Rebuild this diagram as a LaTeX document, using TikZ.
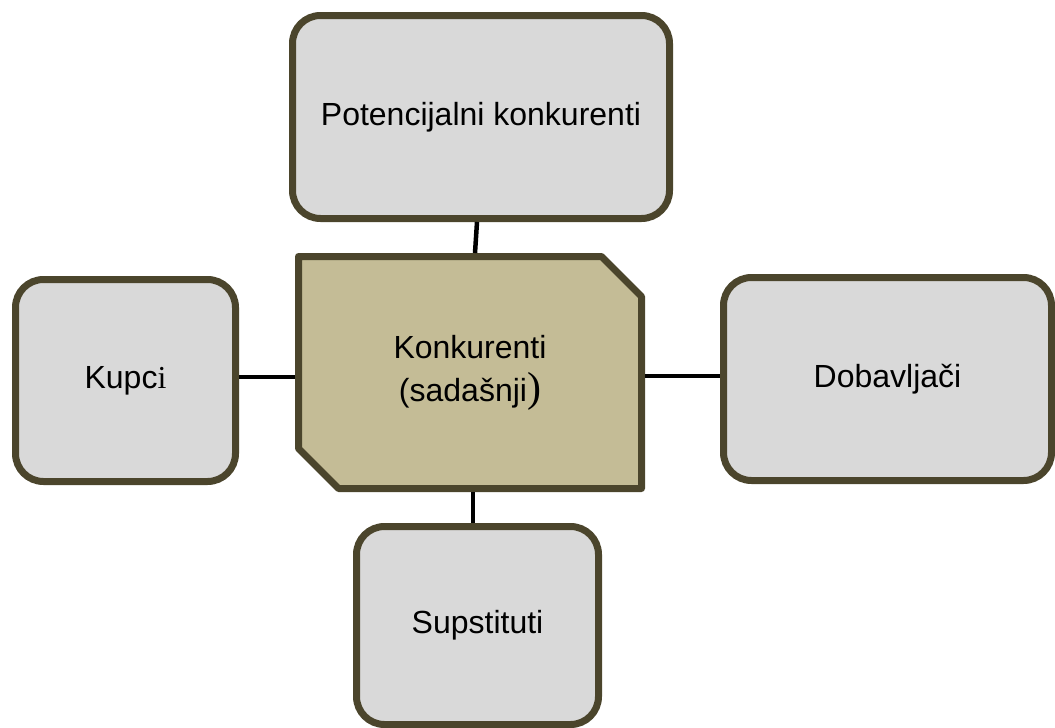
\documentclass[tikz,border=0pt]{standalone}
\usepackage{fontspec}
\setmainfont{Liberation Sans}
\newfontfamily\serifi{Liberation Serif}
\usetikzlibrary{calc,shadows,backgrounds}
\definecolor{bordc}{HTML}{4B452C}
\definecolor{boxgray}{HTML}{D9D9D9}
\definecolor{ctrfill}{HTML}{C4BC96}
\tikzset{
  outerbox/.style={draw=bordc, line width=7pt, fill=boxgray, rounded corners=28pt,
    align=center, inner sep=0pt,
    drop shadow={opacity=0.25, shadow xshift=1pt, shadow yshift=-3pt}},
  ctrbox/.style={draw=none, inner sep=0pt, outer sep=3.5pt, align=center},
  link/.style={draw=black, line width=4.5pt},
  lbl/.style={font=\fontsize{32}{43}\selectfont}
}
\begin{document}
\begin{tikzpicture}[x=1pt, y=-1pt]
\useasboundingbox (0,0) rectangle (1055,728);
\node[outerbox, lbl, minimum width=377pt, minimum height=203pt] (top) at (481,117) {Potencijalni konkurenti};
\node[outerbox, lbl, minimum width=220pt, minimum height=202pt] (kupci) at (125.5,380.5) {Kupc{\serifi i}};
\node[outerbox, lbl, minimum width=328pt, minimum height=203pt] (dob) at (887.5,379) {Dobavljači};
\node[outerbox, lbl, minimum width=242pt, minimum height=198pt] (sup) at (477.5,625.5) {Supstituti};
\node[ctrbox, lbl, minimum width=343pt, minimum height=232pt] (ctr) at (470,372.5)
  {Konkurenti\\(sadašnji{\serifi\fontsize{42}{43}\selectfont )}};
\begin{scope}[on background layer]
\draw[draw=bordc, fill=ctrfill, line width=7pt, line join=round,
      drop shadow={opacity=0.25, shadow xshift=1pt, shadow yshift=-3pt}]
  ($(ctr.north west)+(3.5,3.5)$) -- ($(ctr.north east)+(-43.5,3.5)$)
  -- ($(ctr.north east)+(-3.5,43.5)$) -- ($(ctr.south east)+(-3.5,-3.5)$)
  -- ($(ctr.south west)+(43.5,-3.5)$) -- ($(ctr.south west)+(3.5,-43.5)$) -- cycle;
\end{scope}
\draw[link] ($(top.south)+(-4,0)$) -- ($(ctr.north)+(5,0)$);
\draw[link] ($(kupci.east)+(0,-3.5)$) -- ($(ctr.west)+(0,4.5)$);
\draw[link] ($(ctr.east)+(0,3.5)$) -- ($(dob.west)+(0,-3)$);
\draw[link] ($(ctr.south)+(3,0)$) -- ($(sup.north)+(-4.5,0)$);
\end{tikzpicture}
\end{document}
